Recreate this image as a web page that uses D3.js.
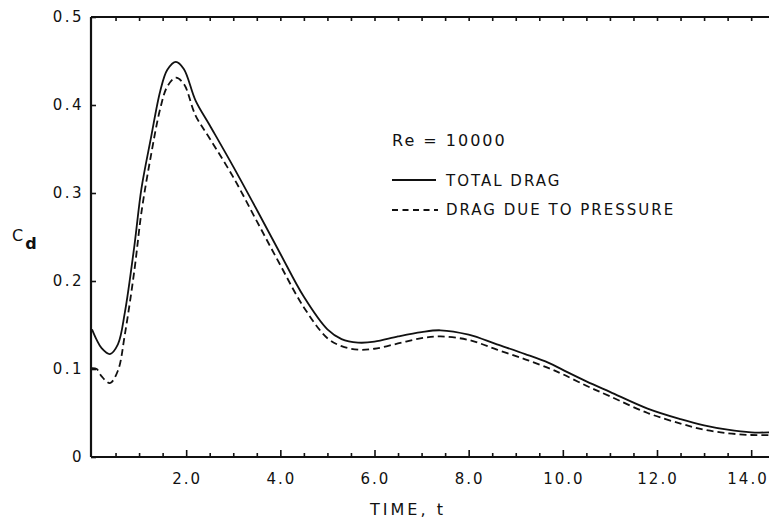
<!DOCTYPE html>
<html><head><meta charset="utf-8">
<script src="https://cdn.jsdelivr.net/npm/d3@7"></script>
<style>
html,body{margin:0;padding:0;background:#fff;}
text{font-family:"DejaVu Sans",sans-serif;fill:#111;}
</style></head><body>
<svg id="c" width="769" height="520"></svg>
<script>
const timeT = [0, 0.1, 0.2, 0.38, 0.55, 0.7, 0.9, 1.05, 1.25, 1.45, 1.6, 1.78, 1.95, 2.2, 2.5, 3.0, 3.5, 4.0, 4.5, 5.0, 5.3, 5.65, 6.0, 6.5, 7.0, 7.4, 8.0, 8.6, 9.2, 9.7, 10.0, 10.5, 11.0, 11.8, 12.5, 13.0, 13.5, 14.0, 14.4];
const totalDrag = [0.145, 0.133, 0.124, 0.117, 0.128, 0.165, 0.240, 0.305, 0.362, 0.416, 0.440, 0.449, 0.441, 0.405, 0.377, 0.330, 0.281, 0.231, 0.182, 0.145, 0.134, 0.130, 0.131, 0.137, 0.142, 0.144, 0.139, 0.128, 0.117, 0.107, 0.099, 0.086, 0.074, 0.055, 0.043, 0.036, 0.031, 0.028, 0.028];
const pressureDrag = [0.101, 0.100, 0.092, 0.084, 0.098, 0.140, 0.212, 0.278, 0.342, 0.396, 0.421, 0.431, 0.424, 0.388, 0.362, 0.318, 0.268, 0.218, 0.170, 0.135, 0.126, 0.122, 0.123, 0.129, 0.135, 0.137, 0.133, 0.122, 0.111, 0.101, 0.094, 0.081, 0.069, 0.050, 0.038, 0.031, 0.027, 0.025, 0.025];
const xTickLabels = ["2.0", "4.0", "6.0", "8.0", "10.0", "12.0", "14.0"];
const yTickLabels = ["0", "0.1", "0.2", "0.3", "0.4", "0.5"];
const legendTitle = "Re = 10000";
const seriesNames = ["TOTAL DRAG", "DRAG DUE TO PRESSURE"];

const svg = d3.select("#c");
const x = d3.scaleLinear().domain([0, 14.4]).range([92, 770]);
const y = d3.scaleLinear().domain([0, 0.5]).range([457, 17]);

const majorX = xTickLabels.map(Number);
const minorX = d3.range(0.5, 14.4, 0.5).filter(v => Math.abs(v / 2 - Math.round(v / 2)) > 1e-6);
const yVals = yTickLabels.map(Number);

// bottom axis
const gBottom = svg.append("g").attr("transform", `translate(0,${y(0)})`);
gBottom.call(d3.axisTop(x).tickValues(majorX).tickSize(7).tickFormat(""));
gBottom.append("g").call(d3.axisTop(x).tickValues(minorX).tickSize(4).tickFormat(""));
gBottom.selectAll(".domain").attr("d", `M${x(0) - 1},0H769`);
gBottom.selectAll("path,line").attr("stroke", "#111").attr("stroke-width", 1.6);
gBottom.selectAll(".domain").attr("stroke-width", 2);

// bottom labels (kept inside the picture at the right edge)
svg.append("g").selectAll("text").data(xTickLabels).join("text")
  .attr("x", d => Math.min(x(+d) + 1, 748)).attr("y", 484).attr("text-anchor", "middle")
  .attr("font-size", 15).attr("letter-spacing", 2).text(d => d);

// top axis
const gTop = svg.append("g").attr("transform", `translate(0,${y(0.5)})`);
gTop.call(d3.axisBottom(x).tickValues(d3.range(0.5, 14.4, 0.5)).tickSize(4).tickFormat(""));
gTop.selectAll(".domain").attr("d", `M${x(0) - 1},0H769`);
gTop.selectAll("path,line").attr("stroke", "#111").attr("stroke-width", 1.6);
gTop.selectAll(".domain").attr("stroke-width", 2);

// left axis
const gLeft = svg.append("g").attr("transform", `translate(${x(0) - 1},0)`);
gLeft.call(d3.axisRight(y).tickValues(yVals).tickSize(5).tickFormat(""));
gLeft.selectAll(".domain").attr("d", `M0,${y(0)}V${y(0.5)}`);
gLeft.selectAll("path,line").attr("stroke", "#111").attr("stroke-width", 1.6);
gLeft.selectAll(".domain").attr("stroke-width", 2.2);

svg.append("g").selectAll("text").data(yTickLabels).join("text")
  .attr("x", 84).attr("y", d => y(+d) + 5).attr("text-anchor", "end")
  .attr("font-size", 15).attr("letter-spacing", 2.5).text(d => d);

// axis titles
const cd = svg.append("text").attr("x", 12).attr("y", 241).attr("font-size", 16);
cd.append("tspan").text("C");
cd.append("tspan").attr("dx", 2).attr("dy", 8).attr("font-size", 16).attr("font-weight", "bold").text("d");

svg.append("text").attr("x", 408).attr("y", 515).attr("text-anchor", "middle")
  .attr("font-size", 16).attr("letter-spacing", 3).text("TIME,  t");

// curves
const line = d3.line().x(d => x(d[0])).y(d => y(d[1])).curve(d3.curveCatmullRom.alpha(0.5));
svg.append("path").datum(timeT.map((t, i) => [t, totalDrag[i]]))
  .attr("d", line).attr("fill", "none").attr("stroke", "#111").attr("stroke-width", 1.8);
svg.append("path").datum(timeT.map((t, i) => [t, pressureDrag[i]]))
  .attr("d", line).attr("fill", "none").attr("stroke", "#111").attr("stroke-width", 1.8)
  .attr("stroke-dasharray", "7,4");

// legend
svg.append("text").attr("x", 392).attr("y", 146).attr("font-size", 16)
  .attr("letter-spacing", 2).text(legendTitle);
const lg = svg.append("g");
lg.append("line").attr("x1", 392).attr("x2", 436).attr("y1", 180).attr("y2", 180)
  .attr("stroke", "#111").attr("stroke-width", 1.8);
lg.append("line").attr("x1", 392).attr("x2", 438).attr("y1", 210).attr("y2", 210)
  .attr("stroke", "#111").attr("stroke-width", 1.8).attr("stroke-dasharray", "6,4.5");
lg.selectAll("text").data(seriesNames).join("text")
  .attr("x", 446).attr("y", (d, i) => 186 + i * 29).attr("font-size", 15)
  .attr("letter-spacing", 2).text(d => d);
</script>
</body></html>
